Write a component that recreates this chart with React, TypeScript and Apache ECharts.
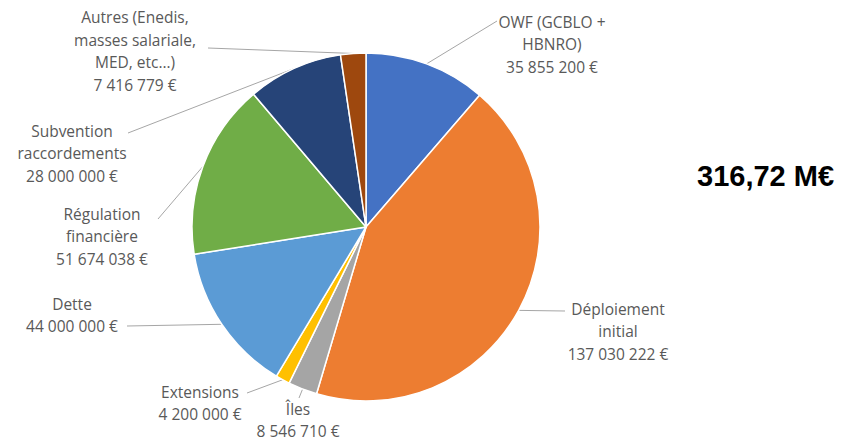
import React, { useEffect, useRef } from "react";
import * as echarts from "echarts";

const names = [
  "OWF (GCBLO +\nHBNRO)",
  "Déploiement\ninitial",
  "Îles",
  "Extensions",
  "Dette",
  "Régulation\nfinancière",
  "Subvention\nraccordements",
  "Autres (Enedis,\nmasses salariale,\nMED, etc…)",
];
const values = [35855200, 137030222, 8546710, 4200000, 44000000, 51674038, 28000000, 7416779];
const colors = ["#4472C4", "#ED7D31", "#A5A5A5", "#FFC000", "#5B9BD5", "#70AD47", "#264478", "#9E480E"];
const totalLabel = "316,72 M€";

// label block centres (layout only)
const labelPos: [number, number][] = [
  [552, 44],
  [618, 331],
  [298, 420],
  [200, 403],
  [72, 315],
  [102, 236],
  [72, 153],
  [135, 51],
];
// where each leader line meets its label (layout only)
const lineEnd: [number, number][] = [
  [497, 21],
  [565, 311],
  [299, 398],
  [247, 393],
  [127, 326],
  [158, 219],
  [128, 133],
  [208, 48],
];

function fmt(v: number): string {
  return String(v).replace(/\B(?=(\d{3})+(?!\d))/g, " ") + " €";
}

export default function App() {
  const ref = useRef<HTMLDivElement>(null);
  useEffect(() => {
    document.body.style.margin = "0";
    const chart = echarts.init(ref.current!, null, { renderer: "svg" });
    chart.setOption({
      animation: false,
      backgroundColor: "#fff",
      graphic: [
        {
          type: "text",
          left: 697,
          top: 161,
          style: {
            text: totalLabel,
            font: "bold 29px 'Liberation Sans', Arial, sans-serif",
            fill: "#000",
          },
        },
      ],
      series: [
        {
          type: "pie",
          center: [366, 227],
          radius: 174,
          startAngle: 90,
          clockwise: true,
          avoidLabelOverlap: false,
          itemStyle: { borderColor: "#fff", borderWidth: 1.5 },
          label: {
            show: true,
            position: "outside",
            formatter: (p: any) => p.name + "\n" + fmt(p.value),
            color: "#595959",
            fontFamily: "'Open Sans', Lato, sans-serif",
            fontSize: 15.5,
            lineHeight: 22.5,
            align: "center",
          },
          labelLine: {
            show: true,
            length: 10,
            length2: 10,
            lineStyle: { color: "#A6A6A6", width: 1 },
          },
          labelLayout: (params: any) => {
            const i = params.dataIndex;
            const p = labelPos[i];
            const pts = params.labelLinePoints;
            const anchor = pts && pts[0] ? pts[0] : lineEnd[i];
            return {
              x: p[0],
              y: p[1],
              align: "center",
              verticalAlign: "middle",
              labelLinePoints: [anchor, lineEnd[i]],
            };
          },
          data: names.map((n, i) => ({ name: n, value: values[i], itemStyle: { color: colors[i] } })),
        },
      ],
    });
    return () => chart.dispose();
  }, []);
  return <div ref={ref} style={{ width: 849, height: 444 }} />;
}
